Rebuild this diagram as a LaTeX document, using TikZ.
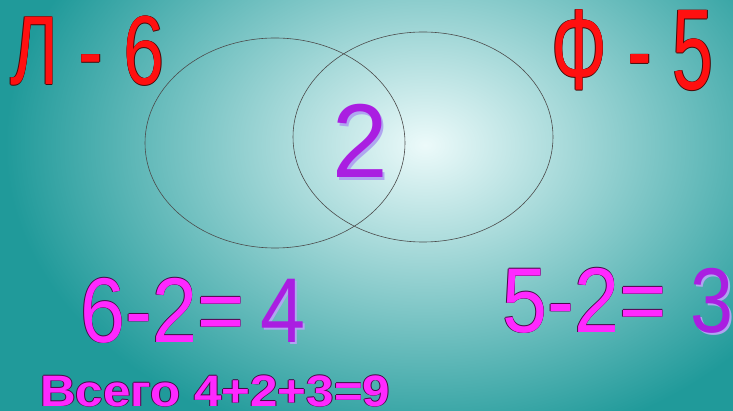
\documentclass[tikz,border=0pt]{standalone}
\usepackage{fontspec}
\setmainfont{Liberation Sans}
\usepackage{graphicx}
\usetikzlibrary{shapes.geometric}
\definecolor{tealbg}{RGB}{32,154,154}
\definecolor{hl}{RGB}{236,250,250}
\definecolor{lred}{RGB}{255,16,16}
\definecolor{dred}{RGB}{70,10,10}
\definecolor{mag}{RGB}{255,40,255}
\definecolor{dmag}{RGB}{70,10,70}
\definecolor{viol}{RGB}{170,30,225}
\definecolor{violsh}{RGB}{175,165,240}
\newcommand\olt[3]{\leavevmode\rlap{\color{#2}\kern-0.8pt#3}\rlap{\color{#2}\kern0.8pt#3}\rlap{\color{#2}\raisebox{0.8pt}{#3}}\rlap{\color{#2}\raisebox{-0.8pt}{#3}}{\color{#1}#3}}
\newcommand\shd[3]{\leavevmode\rlap{\color{#2}\kern2.5pt\raisebox{-2.5pt}{#3}}{\color{#1}#3}}
\tikzset{
  txt/.style={inner sep=0pt, anchor=base west},
  setell/.style={ellipse, draw=black!70, line width=0.6pt, inner sep=0pt, minimum width=260pt, minimum height=210pt},
}
\begin{document}
\begin{tikzpicture}[x=1pt, y=-1pt]
\useasboundingbox (0,0) rectangle (733,411);
\clip (0,0) rectangle (733,411);
\fill[tealbg] (0,0) rectangle (733,411);
\shade[inner color=hl, outer color=tealbg] (425,145) ellipse [x radius=420, y radius=310];
\node[setell] (setL) at (275,143) {};
\node[setell] (setF) at (423,137) {};
\node[txt, font=\fontsize{98}{98}\selectfont] (L) at (10,85) {\scalebox{0.75}[1]{\olt{lred}{dred}{Л - 6}}};
\node[txt, font=\fontsize{115}{115}\selectfont] (F) at (551,90) {\scalebox{0.64}[1]{\olt{lred}{dred}{Ф - 5}}};
\node[txt, font=\fontsize{105}{105}\selectfont] (two) at (332,178) {\scalebox{0.95}[1]{\shd{viol}{violsh}{2}}};
\node[txt, font=\fontsize{92}{92}\selectfont] (eqL) at (80,342) {\scalebox{0.88}[1]{\olt{mag}{dmag}{6-2=}}};
\node[txt, font=\fontsize{92}{92}\selectfont] (four) at (260,342) {\scalebox{0.88}[1]{\shd{viol}{violsh}{4}}};
\node[txt, font=\fontsize{92}{92}\selectfont] (eqF) at (502,332) {\scalebox{0.88}[1]{\olt{mag}{dmag}{5-2=}}};
\node[txt, font=\fontsize{92}{92}\selectfont] (three) at (690,332) {\scalebox{0.84}[1]{\shd{viol}{violsh}{3}}};
\node[txt, font=\bfseries\fontsize{44}{44}\selectfont] (total) at (40,406) {\scalebox{1.12}[1]{\olt{mag}{dmag}{Всего 4+2+3=9}}};
\end{tikzpicture}
\end{document}
